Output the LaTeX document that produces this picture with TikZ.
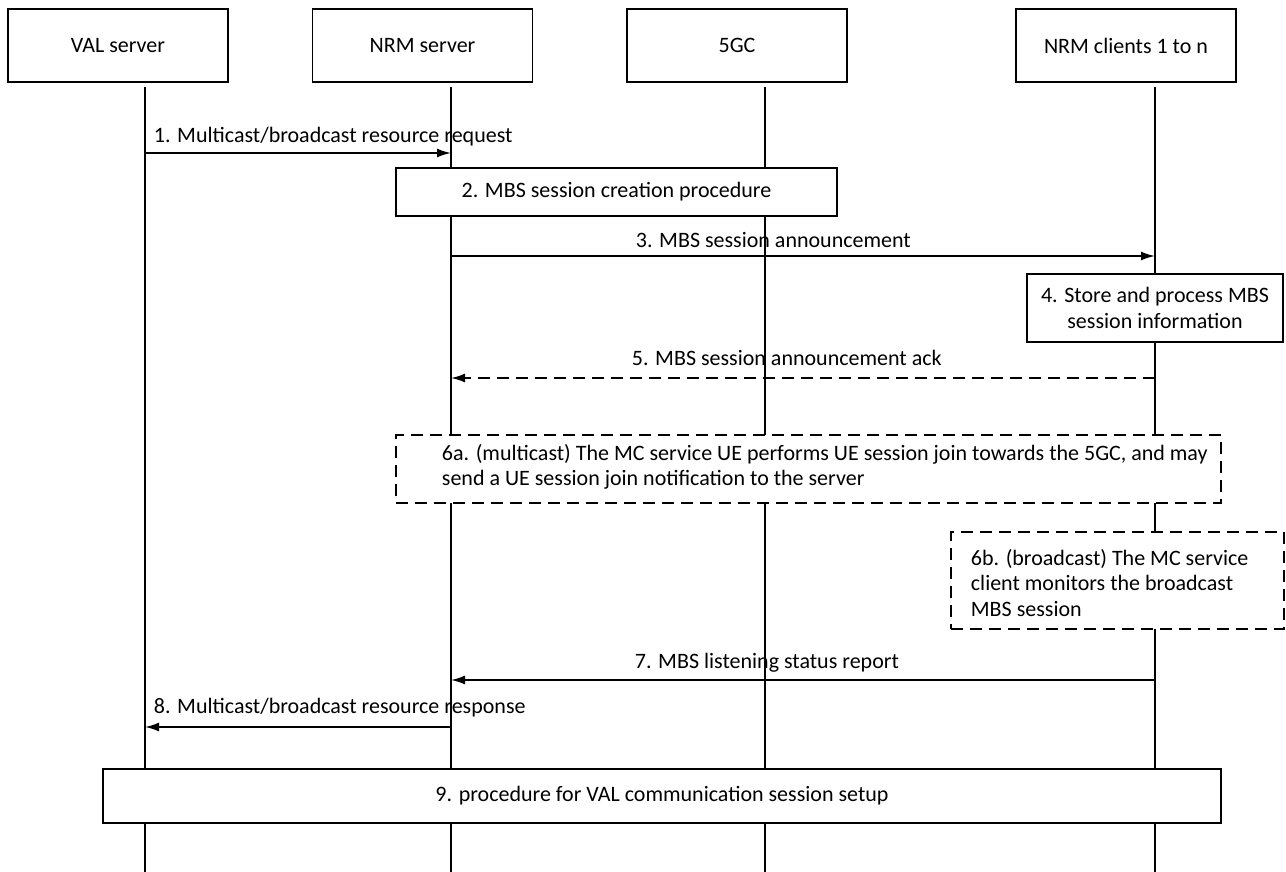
\documentclass[tikz,border=0pt]{standalone}
\usepackage{fontspec}
\setmainfont{Carlito}
\usetikzlibrary{arrows.meta}

\begin{document}
\begin{tikzpicture}
  [x=.5pt,y=-.5pt,line width=.9pt,
   every node/.style={font=\fontsize{11}{12.75}\selectfont,inner sep=0pt},
   head/.style={draw,minimum width=110pt,minimum height=36.5pt},
   proc/.style={draw,fill=white,align=center},
   note/.style={draw,dash pattern=on 6pt off 3.5pt,fill=white},
   msg/.style={-{Latex[length=7pt,width=4.5pt]}}]
  \useasboundingbox (0,0) rectangle (1286,872);

  \node[head] (hval) at (118,45.5) {VAL server};
  \node[head] (hnrm) at (422.5,45.5) {NRM server};
  \node[head] (hcore) at (737,45.5) {5GC};
  \node[head] (hcli) at (1126,45.5) {NRM clients 1 to n};

  % lifelines first, the boxes are filled over them
  \foreach \n/\x in {val/145,nrm/451,core/765,cli/1155}
    \draw (\x,87) coordinate (\n) -- (\x,872) coordinate (\n end);

  % message rows
  \coordinate (r1) at (0,153);
  \coordinate (r3) at (0,256);
  \coordinate (r5) at (0,378);
  \coordinate (r7) at (0,680);
  \coordinate (r8) at (0,727);

  \foreach \from/\to/\row in {val/nrm/r1,nrm/cli/r3,cli/nrm/r7,nrm/val/r8}
    \draw[msg] (\from |- \row) -- (\to |- \row);
  \draw[msg,dash pattern=on 6pt off 3.5pt] (cli |- r5) -- (nrm |- r5);

  \node[anchor=base west] (l1) at (153,142) {1. Multicast/broadcast resource request};
  \node[anchor=base west] (l3) at (635,248) {3. MBS session announcement};
  \node[anchor=base west] (l5) at (631,365) {5. MBS session announcement ack};
  \node[anchor=base west] (l7) at (634,668) {7. MBS listening status report};
  \node[anchor=base west] (l8) at (153,713) {8. Multicast/broadcast resource response};

  % procedure boxes
  \node[proc,minimum width=220.5pt,minimum height=24pt] (s2) at (616.5,192)
    {2. MBS session creation procedure};
  \node[proc,minimum width=128pt,minimum height=34pt] (s4) at (1155,308)
    {4. Store and process MBS\\session information};
  \node[note,minimum width=412.5pt,minimum height=34pt] (s6a) at (808.5,469) {};
  \node[anchor=west,align=left] (t6a) at (441,467)
    {6a. (multicast) The MC service UE performs UE session join towards the 5GC, and may\\
     send a UE session join notification to the server};
  \node[note,minimum width=166.5pt,minimum height=48.5pt] (s6b) at (1117.5,580.5) {};
  \node[anchor=west,align=left] (t6b) at (970,583)
    {6b. (broadcast) The MC service\\client monitors the broadcast\\MBS session};
  \node[proc,minimum width=559pt,minimum height=27pt] (s9) at (662,796)
    {9. procedure for VAL communication session setup};
\end{tikzpicture}
\end{document}
